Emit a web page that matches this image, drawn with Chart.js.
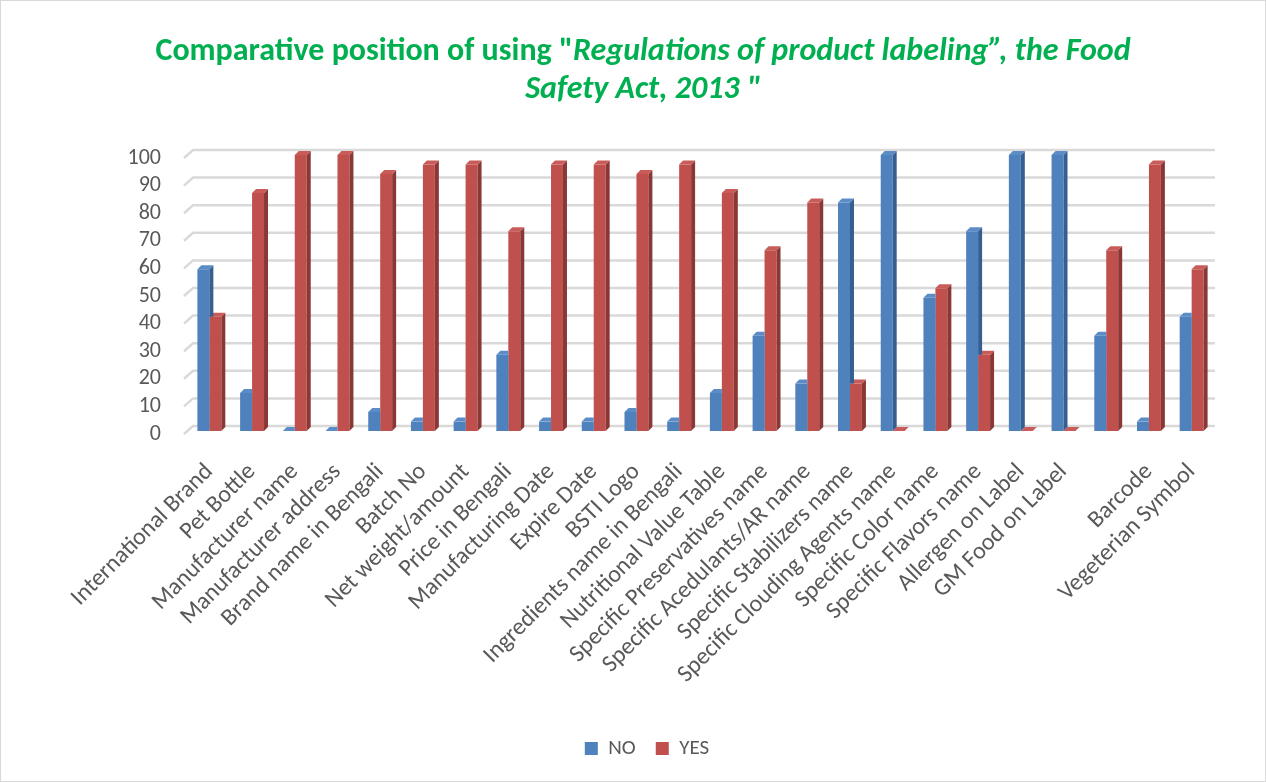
<!DOCTYPE html>
<html>
<head>
<meta charset="utf-8">
<script src="https://cdn.jsdelivr.net/npm/chart.js@4/dist/chart.umd.min.js"></script>
<style>
  html, body { margin: 0; padding: 0; background: #fff; }
  .wrap {
    position: absolute; left: 0; top: 0;
    width: 1266px; height: 782px;
    box-sizing: border-box; border: 1px solid #d9d9d9;
  }
  canvas { display: block; }
</style>
</head>
<body>
<div class="wrap"><canvas id="chart" width="1264" height="780"></canvas></div>
<script>
// categories along the x axis (one group has no label in the source)
const categories = [
  "International Brand", "Pet Bottle", "Manufacturer name", "Manufacturer address",
  "Brand name in Bengali", "Batch No", "Net weight/amount", "Price in Bengali",
  "Manufacturing Date", "Expire Date", "BSTI Logo", "Ingredients name in Bengali",
  "Nutritional Value Table", "Specific Preservatives name", "Specific Acedulants/AR name",
  "Specific Stabilizers name", "Specific Clouding Agents name", "Specific Color name",
  "Specific Flavors name", "Allergen on Label", "GM Food on Label", "",
  "Barcode", "Vegeterian Symbol",
];

const noValues = [
  58.6, 13.8, 0, 0, 6.9, 3.4, 3.4, 27.6, 3.4, 3.4, 6.9, 3.4,
  13.8, 34.5, 17.2, 82.8, 100, 48.3, 72.4, 100, 100, 34.5, 3.4, 41.4,
];

const yesValues = [
  41.4, 86.2, 100, 100, 93.1, 96.6, 96.6, 72.4, 96.6, 96.6, 93.1, 96.6,
  86.2, 65.5, 82.8, 17.2, 0, 51.7, 27.6, 0, 0, 65.5, 96.6, 58.6,
];

const seriesNames = ["NO", "YES"];

const titleLines = [
  [
    { text: 'Comparative position of using "', italic: false },
    { text: "Regulations of product labeling\u201D, the Food", italic: true },
  ],
  [{ text: 'Safety Act, 2013 "', italic: true }],
];

const textGray = "#595959";
const gridGray = "#d9d9d9";
const baseFont = "Carlito, 'Open Sans', sans-serif";
const depth = 4;

// title with mixed upright / italic runs
const richTitle = {
  id: "richTitle",
  afterDraw(chart) {
    const ctx = chart.ctx;
    ctx.save();
    ctx.fillStyle = "#00B050";
    ctx.textBaseline = "alphabetic";
    titleLines.forEach((line, i) => {
      const fonts = line.map((s) => (s.italic ? "italic " : "") + "bold 32px " + baseFont);
      const widths = line.map((s, j) => {
        ctx.font = fonts[j];
        return ctx.measureText(s.text).width;
      });
      const total = widths.reduce((a, b) => a + b, 0);
      let x = chart.width / 2 + 10 - total / 2;
      const y = 59 + i * 38;
      line.forEach((s, j) => {
        ctx.font = fonts[j];
        ctx.fillText(s.text, x, y);
        x += widths[j];
      });
    });
    ctx.restore();
  },
};

// 3D-looking back-wall gridlines
const wallGrid = {
  id: "wallGrid",
  beforeDatasetsDraw(chart) {
    const { ctx, chartArea, scales } = chart;
    ctx.save();
    ctx.strokeStyle = gridGray;
    ctx.lineWidth = 2.5;
    scales.y.ticks.forEach((t) => {
      const y = scales.y.getPixelForValue(t.value);
      ctx.beginPath();
      ctx.moveTo(chartArea.left - 4, y + 3);
      ctx.lineTo(chartArea.left + 5, y - 5);
      ctx.lineTo(chartArea.right + 2, y - 5);
      ctx.stroke();
    });
    ctx.restore();
  },
};

// side and top faces; the NO dataset is drawn last, so its faces are
// clipped where the YES bar next to it stands in front
const barFaces = {
  id: "barFaces",
  afterDatasetDraw(chart, args) {
    const ctx = chart.ctx;
    const ds = chart.data.datasets[args.index];
    const other = args.index === 0 ? chart.getDatasetMeta(1) : null;
    args.meta.data.forEach((bar, i) => {
      const { x, y, base, width } = bar.getProps(["x", "y", "base", "width"], true);
      const l = x - width / 2;
      const r = x + width / 2;
      ctx.save();
      if (other) {
        const nb = other.data[i].getProps(["y"], true);
        ctx.beginPath();
        ctx.rect(0, 0, r, chart.height);
        ctx.rect(r, 0, chart.width, nb.y);
        ctx.clip();
      }
      ctx.fillStyle = ds.sideColor;
      ctx.beginPath();
      ctx.moveTo(r, y);
      ctx.lineTo(r + depth, y - depth);
      ctx.lineTo(r + depth, base - depth);
      ctx.lineTo(r, base);
      ctx.closePath();
      ctx.fill();
      ctx.fillStyle = ds.topColor;
      ctx.beginPath();
      ctx.moveTo(l, y);
      ctx.lineTo(l + depth, y - depth);
      ctx.lineTo(r + depth, y - depth);
      ctx.lineTo(r, y);
      ctx.closePath();
      ctx.fill();
      ctx.restore();
    });
  },
};

new Chart(document.getElementById("chart"), {
  type: "bar",
  data: {
    labels: categories,
    datasets: [
      {
        label: seriesNames[0],
        data: noValues,
        backgroundColor: "#4F81BD",
        sideColor: "#365F91",
        topColor: "#5B8CC6",
      },
      {
        label: seriesNames[1],
        data: yesValues,
        backgroundColor: "#C0504D",
        sideColor: "#8A3836",
        topColor: "#C95B58",
      },
    ],
  },
  options: {
    responsive: false,
    animation: false,
    categoryPercentage: 0.56,
    barPercentage: 1.0,
    layout: { padding: { top: 154, right: 52, bottom: 12, left: 80 } },
    scales: {
      x: {
        grid: { display: false },
        border: { display: false },
        ticks: {
          autoSkip: false,
          maxRotation: 45,
          minRotation: 45,
          padding: 19,
          color: textGray,
          font: { family: baseFont, size: 24 },
        },
        afterFit(scale) {
          scale.height = 287;
        },
      },
      y: {
        min: 0,
        max: 100,
        grid: { display: false },
        border: { display: false },
        ticks: {
          autoSkip: false,
          stepSize: 10,
          padding: 19,
          labelOffset: 3,
          color: textGray,
          font: { family: baseFont, size: 22 },
        },
        afterFit(scale) {
          scale.width = 107;
        },
      },
    },
    plugins: {
      title: { display: false },
      tooltip: { enabled: false },
      legend: {
        position: "bottom",
        labels: {
          boxWidth: 13,
          boxHeight: 13,
          padding: 20,
          color: textGray,
          font: { family: baseFont, size: 21 },
        },
      },
    },
  },
  plugins: [richTitle, wallGrid, barFaces],
});
</script>
</body>
</html>
